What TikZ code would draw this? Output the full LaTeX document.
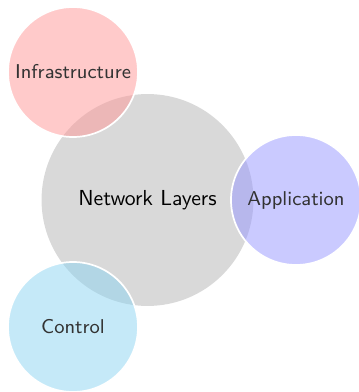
\documentclass[tikz,border=0pt]{standalone}
\renewcommand{\familydefault}{\sfdefault}
\definecolor{infracol}{RGB}{255,150,150}
\definecolor{appcol}{RGB}{150,150,255}
\definecolor{ctrlcol}{RGB}{140,212,242}
\begin{document}
\begin{tikzpicture}[x=0.47pt,y=-0.47pt,
  core/.style={circle,fill=black!15,minimum size=99.6pt,inner sep=0pt,text=black,
    font=\fontsize{10.2pt}{12pt}\selectfont},
  part/.style={circle,draw=white,thick,fill opacity=0.5,text opacity=1,
    minimum size=61.1pt,inner sep=0pt,text=black!80,
    font=\fontsize{9.4pt}{11pt}\selectfont},
]
%%
\useasboundingbox (0,0) rectangle (358,392);
\node (net) at (147.5,200) [core] {Network Layers};
  \node (infra) at (73,72) [part,fill=infracol] {Infrastructure};
  \node (app) at (296,200) [part,fill=appcol] {Application};
  \node (ctrl) at (73,327) [part,fill=ctrlcol] {Control};
%
\end{tikzpicture}
\end{document}
